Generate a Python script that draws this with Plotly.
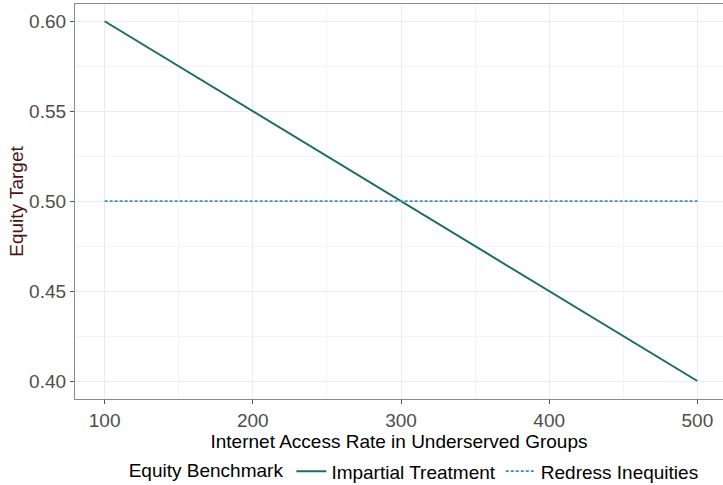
import plotly.graph_objects as go

access_rate = [100, 200, 300, 400, 500]
impartial_treatment = [0.60, 0.55, 0.50, 0.45, 0.40]
redress_inequities = [0.50, 0.50, 0.50, 0.50, 0.50]
x_ticks = [100, 200, 300, 400, 500]
y_ticks = [0.40, 0.45, 0.50, 0.55, 0.60]

fig = go.Figure()
fig.add_trace(go.Scatter(x=access_rate, y=impartial_treatment, mode="lines",
                         name="Impartial Treatment",
                         line=dict(color="#1B6E5A", width=2)))
fig.add_trace(go.Scatter(x=access_rate, y=redress_inequities, mode="lines",
                         name="Redress Inequities",
                         line=dict(color="#3A8FC2", width=1.7, dash="3px,2px")))

font = "Liberation Sans, Arial, sans-serif"
fig.update_layout(
    width=723, height=485,
    margin=dict(l=75, r=0, t=4, b=86, autoexpand=False),
    paper_bgcolor="white", plot_bgcolor="white",
    font=dict(family=font, size=19, color="#000000"),
    showlegend=True,
    legend=dict(orientation="h", x=0.525, xanchor="center", y=-0.135, yanchor="top",
                title=dict(text="Equity Benchmark", font=dict(size=19, color="#000")),
                font=dict(size=19, color="#000"), itemwidth=30, tracegroupgap=0),
    xaxis=dict(range=[80, 517.3], tickvals=x_ticks, ticktext=[str(v) for v in x_ticks],
               showgrid=True, gridcolor="#EBEBEB", gridwidth=1,
               minor=dict(dtick=50, tick0=50, showgrid=True, gridcolor="#F4F4F4", gridwidth=0.6),
               showline=True, linecolor="#8A8A8A", linewidth=1.3, mirror=True,
               ticks="outside", ticklen=4, tickcolor="#555", zeroline=False,
               tickfont=dict(size=19, color="#4D4D4D"),
               title=dict(text="Internet Access Rate in Underserved Groups", standoff=0,
                          font=dict(size=19, color="#000"))),
    yaxis=dict(range=[0.39, 0.6096], tickvals=y_ticks, ticktext=[f"{v:.2f}" for v in y_ticks],
               showgrid=True, gridcolor="#EBEBEB", gridwidth=1,
               minor=dict(dtick=0.025, tick0=0.375, showgrid=True, gridcolor="#F4F4F4", gridwidth=0.6),
               showline=True, linecolor="#8A8A8A", linewidth=1.3,
               ticks="outside", ticklen=4, tickcolor="#555", zeroline=False,
               tickfont=dict(size=19, color="#4D4D4D"),
               title=dict(text="Equity Target", standoff=0,
                          font=dict(size=19, color="#4A1212"))),
)
fig.write_html("out.html", config={"displayModeBar": False},
               post_script="document.body.style.margin='0';document.body.style.overflow='hidden';")
